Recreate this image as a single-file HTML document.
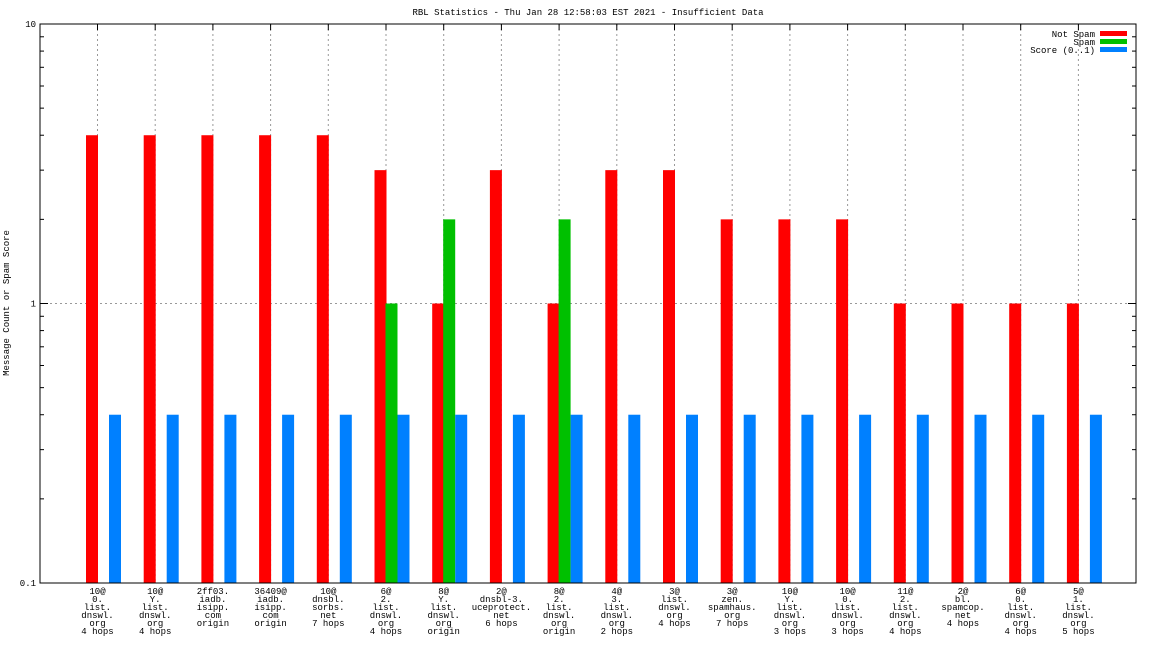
<!DOCTYPE html>
<html><head><meta charset="utf-8"><style>
body{margin:0;background:#fff}
svg text{font-family:"Liberation Mono","DejaVu Sans Mono",monospace;font-size:9px;fill:#000}
</style></head><body>
<svg id="c" width="1152" height="648"></svg>
<script>
const categories=[["10@","0.","list.","dnswl.","org","4 hops"],["10@","Y.","list.","dnswl.","org","4 hops"],["2ff03.","iadb.","isipp.","com","origin"],["36409@","iadb.","isipp.","com","origin"],["10@","dnsbl.","sorbs.","net","7 hops"],["6@","2.","list.","dnswl.","org","4 hops"],["8@","Y.","list.","dnswl.","org","origin"],["2@","dnsbl-3.","uceprotect.","net","6 hops"],["8@","2.","list.","dnswl.","org","origin"],["4@","3.","list.","dnswl.","org","2 hops"],["3@","list.","dnswl.","org","4 hops"],["3@","zen.","spamhaus.","org","7 hops"],["10@","Y.","list.","dnswl.","org","3 hops"],["10@","0.","list.","dnswl.","org","3 hops"],["11@","2.","list.","dnswl.","org","4 hops"],["2@","bl.","spamcop.","net","4 hops"],["6@","0.","list.","dnswl.","org","4 hops"],["5@","1.","list.","dnswl.","org","5 hops"]];
const notSpam=[4,4,4,4,4,3,1,3,1,3,3,2,2,2,1,1,1,1];
const spam=[0,0,0,0,0,1,2,0,2,0,0,0,0,0,0,0,0,0];
const score=[0.4,0.4,0.4,0.4,0.4,0.4,0.4,0.4,0.4,0.4,0.4,0.4,0.4,0.4,0.4,0.4,0.4,0.4];
const yTicks=[0.1,1,10];
const yLabels=["0.1","1","10"];
const svg=document.getElementById('c');const NS='http://www.w3.org/2000/svg';
const L=40,R=1136,T=24,B=583;
const y=v=>T+(B-T)*(1-(Math.log10(v)+1)/2);
const x=i=>86+i*57.7;
function el(t,a,name){const e=document.createElementNS(NS,t);for(const k in a)e.setAttribute(k,a[k]);


svg.appendChild(e);return e;}
function txt(s,a,name){const e=el('text',a,name);e.textContent=s;return e;}
txt("RBL Statistics - Thu Jan 28 12:58:03 EST 2021 - Insufficient Data",{x:588,y:15,'text-anchor':'middle'},'chart-title');
txt("Message Count or Spam Score",{x:9,y:303,'text-anchor':'middle',transform:'rotate(-90 9 303)'},'y-axis-title');
yTicks.forEach((v,k)=>{
 if(v>0.1&&v<10) el('line',{x1:L,x2:R,y1:y(v),y2:y(v),stroke:'#999','stroke-dasharray':'2,3'},'y-grid-line');
 txt(yLabels[k],{x:L-4,y:y(v)+3,'text-anchor':'end'},'y-tick-label');
});
for(let d=0.1;d<10;d*=10)for(let m=1;m<10;m++){const v=d*m;const len=m==1?8:4;
 el('line',{x1:L,x2:L+len,y1:y(v),y2:y(v),stroke:'#000'},'y-tick');
 el('line',{x1:R,x2:R-len,y1:y(v),y2:y(v),stroke:'#000'},'y-tick-right');}
categories.forEach((c,i)=>{
 const cx=x(i)+11.5;
 el('line',{x1:cx,x2:cx,y1:T,y2:B,stroke:'#999','stroke-dasharray':'2,3'},'x-grid-line');
 el('line',{x1:cx,x2:cx,y1:T,y2:T+6,stroke:'#000'},'x-tick-top');
 c.forEach((s,j)=>txt(s,{x:cx,y:B+11+j*8,'text-anchor':'middle'},'x-tick-label'));
 if(notSpam[i]>0.1) el('rect',{x:x(i),y:y(notSpam[i]),width:12,height:B-y(notSpam[i]),fill:'#ff0000'},'bar-not-spam');
 if(spam[i]>0.1) el('rect',{x:x(i)+11,y:y(spam[i]),width:12,height:B-y(spam[i]),fill:'#00c000'},'bar-spam');
 if(score[i]>0.1) el('rect',{x:x(i)+23,y:y(score[i]),width:12,height:B-y(score[i]),fill:'#0080ff'},'bar-score');
});
el('rect',{x:L,y:T,width:R-L,height:B-T,fill:'none',stroke:'#000'},'plot-border');
const leg=[["Not Spam","#ff0000"],["Spam","#00c000"],["Score (0..1)","#0080ff"]];
leg.forEach((l,k)=>{txt(l[0],{x:1095,y:37+k*8,'text-anchor':'end'},'legend-label');
 el('rect',{x:1100,y:31+k*8,width:27,height:5,fill:l[1]},'legend-swatch');});
</script>
</body></html>
